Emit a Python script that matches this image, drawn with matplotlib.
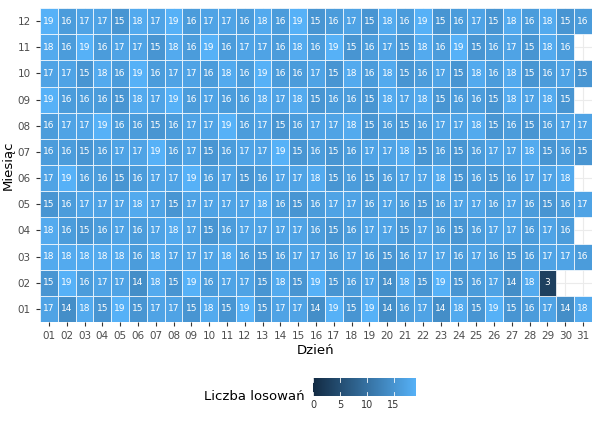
import numpy as np
import matplotlib
matplotlib.use("Agg")
import matplotlib.pyplot as plt
from matplotlib.colors import LinearSegmentedColormap

months = ["01","02","03","04","05","06","07","08","09","10","11","12"]
days = [f"{d:02d}" for d in range(1, 32)]
rows = {
"12": [19,16,17,17,15,18,17,19,16,17,17,16,18,16,19,15,16,17,15,18,16,19,15,16,17,15,18,16,18,15,16],
"11": [18,16,19,16,17,17,15,18,16,19,16,17,17,16,18,16,19,15,16,17,15,18,16,19,15,16,17,15,18,16],
"10": [17,17,15,18,16,19,16,17,17,16,18,16,19,16,16,17,15,18,16,18,15,16,17,15,18,16,18,15,16,17,15],
"09": [19,16,16,16,15,18,17,19,16,17,16,16,18,17,18,15,16,16,15,18,17,18,15,16,16,15,18,17,18,15],
"08": [16,17,17,19,16,16,15,16,17,17,19,16,17,15,16,17,17,18,15,16,15,16,17,17,18,15,16,15,16,17,17],
"07": [16,16,15,16,17,17,19,16,17,15,16,17,17,19,15,16,15,16,17,17,18,15,16,15,16,17,17,18,15,16,15],
"06": [17,19,16,16,15,16,17,17,19,16,17,15,16,17,17,18,15,16,15,16,17,17,18,15,16,15,16,17,17,18],
"05": [15,16,17,17,17,18,17,15,17,17,17,17,18,16,15,16,17,17,16,17,16,15,16,17,17,16,17,16,15,16,17],
"04": [18,16,15,16,17,16,17,18,17,15,16,17,17,17,17,16,15,16,17,17,15,17,16,15,16,17,17,16,17,16],
"03": [18,18,18,18,18,16,18,17,17,17,18,16,15,16,17,17,16,17,16,15,16,17,17,16,17,16,15,16,17,17,16],
"02": [15,19,16,17,17,14,18,15,19,16,17,17,15,18,15,19,15,16,17,14,18,15,19,15,16,17,14,18,3],
"01": [17,14,18,15,19,15,17,17,15,18,15,19,15,17,17,14,19,15,19,14,16,17,14,18,15,19,15,16,17,14,18],
}

cmap = LinearSegmentedColormap.from_list("gg", ["#132B43", "#56B1F7"])
vmin, vmax = 0, 19

fig = plt.figure(figsize=(6, 4.28), dpi=100)
ax = fig.add_axes([40/600, 1-322/428, 552/600, 314/428])
ax.set_facecolor("white")
ax.set_xlim(0.5, 31.5)
ax.set_ylim(0.5, 12.5)
for i in range(1, 32):
    ax.axvline(i, color="#ebebeb", lw=0.8, zorder=0)
for j in range(1, 13):
    ax.axhline(j, color="#ebebeb", lw=0.8, zorder=0)
for j, m in enumerate(months, start=1):
    for i, v in enumerate(rows[m], start=1):
        c = cmap((v - vmin) / (vmax - vmin))
        ax.add_patch(plt.Rectangle((i-0.5, j-0.5), 1, 1, facecolor=c, edgecolor="white", lw=0.5, zorder=1))
        ax.text(i, j, str(v), ha="center", va="center", color="white", fontsize=6.5, zorder=2)
ax.set_xticks(range(1, 32))
ax.set_xticklabels(days)
ax.set_yticks(range(1, 13))
ax.set_yticklabels(months)
ax.tick_params(labelsize=7.5, colors="#4d4d4d", length=3, color="#333333")
for s in ax.spines.values():
    s.set_visible(False)
ax.set_xlabel("Dzień", fontsize=9.5, labelpad=2)
ax.set_ylabel("Miesiąc", fontsize=9.5, labelpad=2)

cax = fig.add_axes([313/600, 1-396/428, 102/600, 18/428])
grad = np.linspace(vmin, vmax, 256).reshape(1, -1)
cax.imshow(grad, aspect="auto", cmap=cmap, extent=[vmin, vmax, 0, 1], vmin=vmin, vmax=vmax)
cax.set_yticks([])
cax.set_xticks([0, 5, 10, 15])
cax.tick_params(labelsize=7, colors="#333333", length=0, pad=3)
for s in cax.spines.values():
    s.set_visible(False)
for t in [0, 5, 10, 15]:
    cax.plot([t, t], [0, 0.2], color="white", lw=0.6)
    cax.plot([t, t], [0.8, 1], color="white", lw=0.6)
fig.text(305/600, 1-396/428, "Liczba losowań", ha="right", va="center", fontsize=9.5)

fig.savefig("out.png", dpi=100)
